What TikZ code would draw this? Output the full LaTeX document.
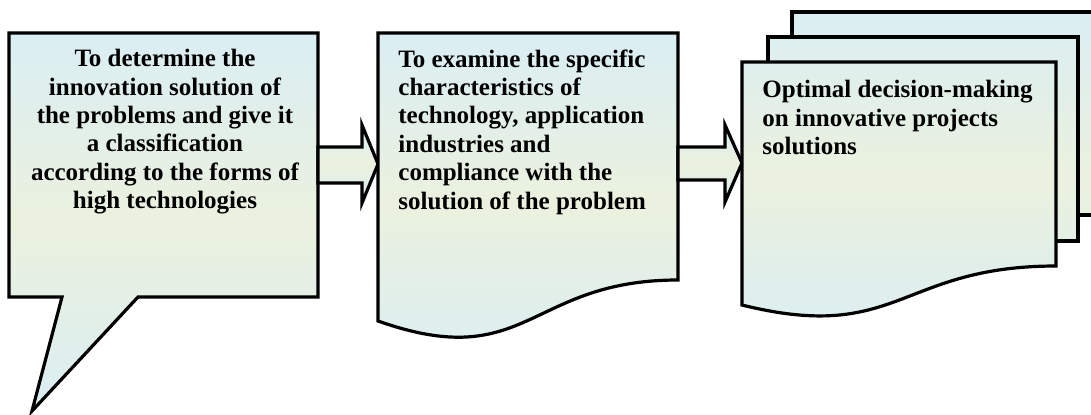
\documentclass[tikz,border=0pt]{standalone}
\usepackage{fontspec}
\setmainfont{Liberation Serif}
\definecolor{boxblue}{HTML}{DAEEF3}
\definecolor{boxgreen}{HTML}{EBF1DE}
\tikzset{
  shapefill/.style={top color=boxblue, bottom color=boxblue, middle color=boxgreen},
  outline/.style={draw=black, line width=1.6pt, line join=miter},
  boxtext/.style={inner sep=0pt, anchor=north west, align=left,
    font=\fontsize{12.5}{14.2}\selectfont\bfseries},
}
\begin{document}
\begin{tikzpicture}[x=0.5pt, y=-0.5pt]
  \useasboundingbox (0,0) rectangle (1091,414);
  \clip (0,0) rectangle (1091,414);

  % Callout with the first step
  \draw[shapefill, outline] (9,33) -- (318,33) -- (318,297) -- (138,297) -- (32,411) -- (62,297) -- (9,297) -- cycle;
  \node[boxtext, anchor=north, align=center] (classify) at (165,49)
    {To determine the\\innovation solution of\\the problems and give it\\a classification\\according to the forms of\\high technologies};

  % First block arrow
  \draw[shapefill, outline] (318,147) -- (362,147) -- (362,125) -- (378,164) -- (362,203) -- (362,183) -- (318,183) -- cycle;

  % Document with the second step
  \draw[shapefill, outline] (378,33) -- (678,33) -- (678,280) .. controls (528,280) and (528,374) .. (378,321) -- cycle;
  \node[boxtext] (examine) at (398,49)
    {To examine the specific\\characteristics of\\technology, application\\industries and\\compliance with the\\solution of the problem};

  % Second block arrow
  \draw[shapefill, outline] (678,147) -- (725,147) -- (725,125) -- (742,163) -- (725,202) -- (725,180) -- (678,180) -- cycle;

  % Stacked documents
  \shade[shapefill, nonzero rule]
    (792,12) -- (1107,12) -- (1107,215) -- (792,215) -- cycle
    (768,37) -- (1078,37) -- (1078,241) -- (768,241) -- cycle
    (742,62) -- (1056,62) -- (1056,266) .. controls (899,266) and (899,344) .. (742,305) -- cycle;
  \draw[outline] (792,37) -- (792,12) -- (1107,12) -- (1107,215) -- (1078,215);
  \draw[outline] (768,62) -- (768,37) -- (1078,37) -- (1078,241) -- (1056,241);
  \draw[outline] (742,62) -- (1056,62) -- (1056,266) .. controls (899,266) and (899,344) .. (742,305) -- cycle;
  \node[boxtext] (decide) at (762,80)
    {Optimal decision-making\\on innovative projects\\solutions};
\end{tikzpicture}
\end{document}
